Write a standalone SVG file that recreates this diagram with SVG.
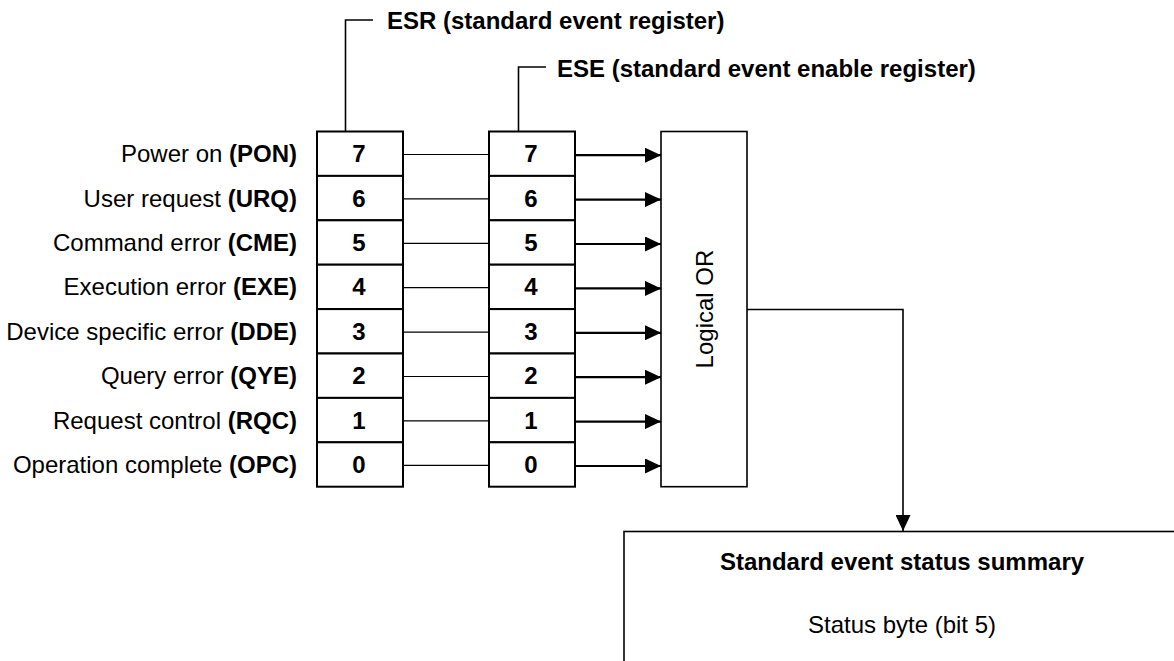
<svg xmlns="http://www.w3.org/2000/svg" width="1174" height="661" viewBox="0 0 1174 661">
<style>
text{font-family:"Liberation Sans",Arial,sans-serif;font-size:24px;fill:#000}
.b{font-weight:bold}
.cell{fill:#fff;stroke:#000;stroke-width:2}
.box{fill:#fff;stroke:#000;stroke-width:1.6}
.thin{stroke:#000;stroke-width:1.2;fill:none}
.arr{stroke:#000;stroke-width:2.2;fill:none;marker-end:url(#ah)}
.out{stroke:#000;stroke-width:1.6;fill:none;marker-end:url(#ah)}
.lead{stroke:#000;stroke-width:1.6;fill:none}
.num{font-weight:bold;text-anchor:middle}
.lbl{text-anchor:end}
</style>
<defs>
<marker id="ah" markerUnits="userSpaceOnUse" markerWidth="16" markerHeight="15" refX="16" refY="7.5" orient="auto">
<path d="M0,0 L16,7.5 L0,15 Z" fill="#000"/>
</marker>
</defs>

<g id="labels">
<text class="lbl" x="297" y="162.2">Power on <tspan class="b">(PON)</tspan></text>
<text class="lbl" x="297" y="206.6">User request <tspan class="b">(URQ)</tspan></text>
<text class="lbl" x="297" y="251">Command error <tspan class="b">(CME)</tspan></text>
<text class="lbl" x="297" y="295.4">Execution error <tspan class="b">(EXE)</tspan></text>
<text class="lbl" x="297" y="339.8">Device specific error <tspan class="b">(DDE)</tspan></text>
<text class="lbl" x="297" y="384.2">Query error <tspan class="b">(QYE)</tspan></text>
<text class="lbl" x="297" y="428.6">Request control <tspan class="b">(RQC)</tspan></text>
<text class="lbl" x="297" y="473">Operation complete <tspan class="b">(OPC)</tspan></text>
</g>

<g id="esr-title">
<path class="lead" d="M345.5,131.5 V20 H373"/>
<text class="b" x="387" y="28.5">ESR (standard event register)</text>
</g>

<g id="ese-title">
<path class="lead" d="M518.5,131.5 V67 H546"/>
<text class="b" x="557" y="76.5">ESE (standard event enable register)</text>
</g>

<g id="esr">
<rect class="cell" x="317" y="131.5" width="86" height="44.4"/>
<rect class="cell" x="317" y="175.9" width="86" height="44.4"/>
<rect class="cell" x="317" y="220.3" width="86" height="44.4"/>
<rect class="cell" x="317" y="264.7" width="86" height="44.4"/>
<rect class="cell" x="317" y="309.1" width="86" height="44.4"/>
<rect class="cell" x="317" y="353.5" width="86" height="44.4"/>
<rect class="cell" x="317" y="397.9" width="86" height="44.4"/>
<rect class="cell" x="317" y="442.3" width="86" height="44.4"/>
<text class="num" x="359" y="162.2">7</text>
<text class="num" x="359" y="206.6">6</text>
<text class="num" x="359" y="251">5</text>
<text class="num" x="359" y="295.4">4</text>
<text class="num" x="359" y="339.8">3</text>
<text class="num" x="359" y="384.2">2</text>
<text class="num" x="359" y="428.6">1</text>
<text class="num" x="359" y="473">0</text>
</g>

<g id="ese">
<rect class="cell" x="489" y="131.5" width="86" height="44.4"/>
<rect class="cell" x="489" y="175.9" width="86" height="44.4"/>
<rect class="cell" x="489" y="220.3" width="86" height="44.4"/>
<rect class="cell" x="489" y="264.7" width="86" height="44.4"/>
<rect class="cell" x="489" y="309.1" width="86" height="44.4"/>
<rect class="cell" x="489" y="353.5" width="86" height="44.4"/>
<rect class="cell" x="489" y="397.9" width="86" height="44.4"/>
<rect class="cell" x="489" y="442.3" width="86" height="44.4"/>
<text class="num" x="531" y="162.2">7</text>
<text class="num" x="531" y="206.6">6</text>
<text class="num" x="531" y="251">5</text>
<text class="num" x="531" y="295.4">4</text>
<text class="num" x="531" y="339.8">3</text>
<text class="num" x="531" y="384.2">2</text>
<text class="num" x="531" y="428.6">1</text>
<text class="num" x="531" y="473">0</text>
</g>

<g id="logical-or">
<rect class="box" x="661" y="131.5" width="86" height="355.2"/>
<text x="704" y="309" transform="rotate(-90 704 309)" text-anchor="middle" dominant-baseline="central">Logical OR</text>
</g>

<g id="summary">
<rect class="box" x="624" y="531.5" width="700" height="200"/>
<text class="b" x="902" y="570" text-anchor="middle">Standard event status summary</text>
<text x="902" y="632.5" text-anchor="middle">Status byte (bit 5)</text>
</g>

<g id="connectors">
<line class="thin" x1="403" y1="154.5" x2="489" y2="154.5"/>
<line class="thin" x1="403" y1="198.9" x2="489" y2="198.9"/>
<line class="thin" x1="403" y1="243.3" x2="489" y2="243.3"/>
<line class="thin" x1="403" y1="287.7" x2="489" y2="287.7"/>
<line class="thin" x1="403" y1="332.1" x2="489" y2="332.1"/>
<line class="thin" x1="403" y1="376.5" x2="489" y2="376.5"/>
<line class="thin" x1="403" y1="420.9" x2="489" y2="420.9"/>
<line class="thin" x1="403" y1="465.3" x2="489" y2="465.3"/>
<line class="arr" x1="575" y1="155.2" x2="661" y2="155.2"/>
<line class="arr" x1="575" y1="199.6" x2="661" y2="199.6"/>
<line class="arr" x1="575" y1="244" x2="661" y2="244"/>
<line class="arr" x1="575" y1="288.4" x2="661" y2="288.4"/>
<line class="arr" x1="575" y1="332.8" x2="661" y2="332.8"/>
<line class="arr" x1="575" y1="377.2" x2="661" y2="377.2"/>
<line class="arr" x1="575" y1="421.6" x2="661" y2="421.6"/>
<line class="arr" x1="575" y1="466" x2="661" y2="466"/>
<path class="out" d="M747,309.5 H903 V531"/>
</g>
</svg>
